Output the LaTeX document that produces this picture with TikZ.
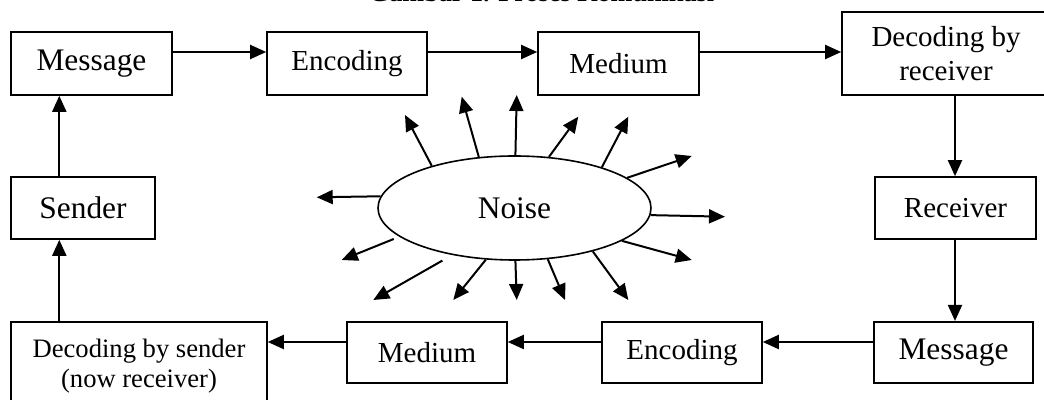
\documentclass[tikz,border=0pt]{standalone}
\usepackage{fontspec}
\setmainfont{Liberation Serif}
\usetikzlibrary{arrows.meta,shapes.geometric}

\tikzset{
  box/.style={draw, line width=0.8pt, inner sep=0pt, align=center, minimum height=31.5pt},
  bigtxt/.style={font=\fontsize{15.7}{18}\selectfont},
  midtxt/.style={font=\fontsize{14.5}{17}\selectfont},
  smalltxt/.style={font=\fontsize{13.3}{15}\selectfont},
  arr/.style={draw, line width=1pt, -{Triangle[length=8pt,width=7pt]}},
}

\begin{document}
\begin{tikzpicture}[x=0.5pt, y=-0.5pt]
  \clip (0,0) rectangle (1044,400);

  % caption, mostly above the page edge
  \node[font=\fontsize{13.1}{15}\selectfont\bfseries, anchor=base, inner sep=0pt] (title) at (541.5,2) {Gambar 1. Proses Komunikasi};

  % guide lines for the connectors
  \coordinate (ty) at (0,52);
  \coordinate (by) at (0,342);
  \coordinate (lx) at (59.3,0);
  \coordinate (rx) at (955,0);

  % upper row
  \node[box, bigtxt, minimum width=80.5pt] (msgT) at (91.5,63.5) {Message};
  \node[box, midtxt, minimum width=80pt] (encT) at (347,63.5) {Encoding};
  \node[box, midtxt, minimum width=80.5pt] (medT) at (618.5,63.5) {Medium};
  \node[box, midtxt, minimum width=104pt, minimum height=41.5pt] (decR) at (946,53.5) {Decoding by\\receiver};

  % side boxes
  \node[box, bigtxt, minimum width=72pt, minimum height=31pt] (sender) at (83,208) {Sender};
  \node[box, midtxt, minimum width=80.5pt, minimum height=31pt] (receiver) at (955.5,208) {Receiver};

  % lower row
  \node[box, smalltxt, minimum width=128pt, minimum height=44.6pt] (decS) at (139,366.6) {Decoding by sender\\(now receiver)};
  \node[box, midtxt, minimum width=80pt, minimum height=30.75pt] (medB) at (427,352.5) {Medium};
  \node[box, midtxt, minimum width=80pt, minimum height=30.75pt] (encB) at (682,352.5) {Encoding};
  \node[box, bigtxt, minimum width=79.5pt, minimum height=30.75pt] (msgB) at (953.5,352.5) {Message};

  % noise in the middle
  \node[draw, ellipse, line width=0.8pt, inner sep=0pt, minimum width=136.5pt, minimum height=52pt,
        label={[bigtxt, anchor=base, inner sep=0pt]center:Noise}] (noise) at (514.5,208) {};

  % communication cycle
  \draw[arr] (msgT.east |- ty) -- (encT.west |- ty);
  \draw[arr] (encT.east |- ty) -- (medT.west |- ty);
  \draw[arr] (medT.east |- ty) -- (decR.west |- ty);
  \draw[arr] (decR.south -| rx) -- (receiver.north -| rx);
  \draw[arr] (receiver.south -| rx) -- (msgB.north -| rx);
  \draw[arr] (msgB.west |- by) -- (encB.east |- by);
  \draw[arr] (encB.west |- by) -- (medB.east |- by);
  \draw[arr] (medB.west |- by) -- (decS.east |- by);
  \draw[arr] (decS.north -| lx) -- (sender.south -| lx);
  \draw[arr] (sender.north -| lx) -- (msgT.south -| lx);

  % noise rays
  \coordinate (n1) at (405,115);
  \coordinate (n2) at (461.7,96.7);
  \coordinate (n3) at (516.7,95);
  \coordinate (n4) at (578.3,116.7);
  \coordinate (n5) at (628.3,116.7);
  \coordinate (n6) at (691.7,156);
  \coordinate (n7) at (725,216.7);
  \coordinate (n8) at (691.7,260);
  \coordinate (n9) at (628.3,300);
  \coordinate (n10) at (565,300);
  \coordinate (n11) at (516.7,300);
  \coordinate (n12) at (453.3,300);
  \coordinate (n13) at (373.3,300);
  \coordinate (n14) at (341.7,260);
  \coordinate (n15) at (316.7,197.3);

  \draw[arr] (noise.153.8) -- (n1);
  \draw[arr] (noise.125.5) -- (n2);
  \draw[arr] (noise.89) -- (n3);
  \draw[arr] (noise.56.6) -- (n4);
  \draw[arr] (noise.25) -- (n5);
  \draw[arr] (noise.15.1) -- (n6);
  \draw[arr] (noise.-3.7) -- (n7);
  \draw[arr] (noise.-17.5) -- (n8);
  \draw[arr] (noise.-29.5) -- (n9);
  \draw[arr] (noise.-57) -- (n10);
  \draw[arr] (noise.-89) -- (n11);
  \draw[arr] (noise.-119.6) -- (n12);
  \draw[arr, shorten <=5.6pt] (noise.217.1) -- (n13);
  \draw[arr, shorten <=3pt] (noise.194.3) -- (n14);
  \draw[arr] (noise.175.5) -- (n15);
\end{tikzpicture}
\end{document}
